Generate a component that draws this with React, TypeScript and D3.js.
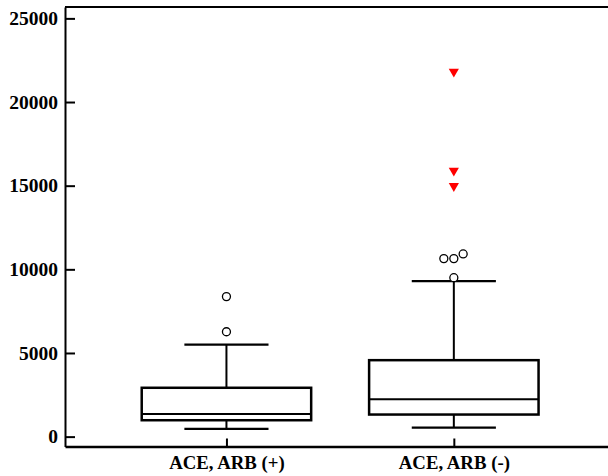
import React, { useRef, useEffect } from "react";
import * as d3 from "d3";

// box summaries per group
const groups = ["ACE, ARB (+)", "ACE, ARB (-)"];
const lowerWhisker = [460, 540];
const q1 = [980, 1320];
const median = [1360, 2240];
const q3 = [2920, 4570];
const upperWhisker = [5500, 9290];

// outliers (open circles) with small horizontal jitter in category units
const outliers = [[8370, 6270], [10640, 10640, 10920, 9500]];
const outlierJitter = [[0, 0], [-0.044, 0, 0.041, 0]];

// extreme values (red triangles)
const extremes = [[], [21820, 15900, 14980]];

const yTicks = [0, 5000, 10000, 15000, 20000, 25000];

export default function App() {
  const ref = useRef<SVGSVGElement>(null);
  const width = 608;
  const height = 476;

  useEffect(() => {
    const svg = d3.select(ref.current);
    svg.selectAll("*").remove();

    const left = 65, right = 608, top = 7, bottom = 446.5;
    const font = "Liberation Serif, Times New Roman, serif";

    const x = d3.scaleLinear().domain([0.29, 2.678]).range([left, right]);
    const y = d3.scaleLinear().domain([-590, 25680]).range([bottom, top]);
    const boxHalf = 0.3726;
    const capHalf = 0.185;

    // top frame line
    svg.append("line")
      .attr("x1", left).attr("x2", right)
      .attr("y1", top).attr("y2", top)
      .attr("stroke", "#000").attr("stroke-width", 2);

    // y axis
    const ya = svg.append("g")
      .attr("transform", `translate(${left},0)`)
      .call(d3.axisLeft(y).tickValues(yTicks).tickSize(-10).tickSizeOuter(0).tickPadding(7).tickFormat(d3.format("d")));
    ya.attr("font-family", null).attr("font-size", null);
    ya.select(".domain").attr("stroke-width", 2);
    ya.selectAll(".tick line").attr("stroke-width", 2);
    ya.selectAll(".tick text")
      .style("font-family", font).style("font-weight", "bold").style("font-size", "19.5px").attr("fill", "#000");

    // x axis
    const xa = svg.append("g")
      .attr("transform", `translate(0,${bottom})`)
      .call(d3.axisBottom(x).tickValues([1, 2]).tickSize(-8).tickSizeOuter(0).tickPadding(9)
        .tickFormat((d) => groups[(d as number) - 1]));
    xa.attr("font-family", null).attr("font-size", null);
    xa.select(".domain").attr("stroke-width", 2.5);
    xa.selectAll(".tick line").attr("stroke-width", 2);
    xa.selectAll(".tick text")
      .style("font-family", font).style("font-weight", "bold").style("font-size", "18.8px").attr("fill", "#000");

    const g = svg.append("g");
    groups.forEach((name, i) => {
      const c = i + 1;
      const bg = g.append("g");
      // whiskers
      bg.append("line")
        .attr("x1", x(c)).attr("x2", x(c))
        .attr("y1", y(upperWhisker[i])).attr("y2", y(q3[i]))
        .attr("stroke", "#000").attr("stroke-width", 2);
      bg.append("line")
        .attr("x1", x(c)).attr("x2", x(c))
        .attr("y1", y(q1[i])).attr("y2", y(lowerWhisker[i]))
        .attr("stroke", "#000").attr("stroke-width", 2);
      [upperWhisker[i], lowerWhisker[i]].forEach((v) => {
        bg.append("line")
          .attr("x1", x(c - capHalf)).attr("x2", x(c + capHalf))
          .attr("y1", y(v)).attr("y2", y(v))
          .attr("stroke", "#000").attr("stroke-width", 2.2);
      });
      // box
      bg.append("rect")
        .attr("x", x(c - boxHalf)).attr("width", x(c + boxHalf) - x(c - boxHalf))
        .attr("y", y(q3[i])).attr("height", y(q1[i]) - y(q3[i]))
        .attr("fill", "none").attr("stroke", "#000").attr("stroke-width", 2.5);
      bg.append("line")
        .attr("x1", x(c - boxHalf)).attr("x2", x(c + boxHalf))
        .attr("y1", y(median[i])).attr("y2", y(median[i]))
        .attr("stroke", "#000").attr("stroke-width", 2);
      // outliers
      bg.selectAll("circle.out")
        .data(outliers[i])
        .join("circle")
        .attr("class", "out")
        .attr("cx", (_, j) => x(c + outlierJitter[i][j]))
        .attr("cy", (d) => y(d))
        .attr("r", 4)
        .attr("fill", "#fff").attr("stroke", "#000").attr("stroke-width", 1.3);
      // extremes
      bg.selectAll("path.ext")
        .data(extremes[i])
        .join("path")
        .attr("class", "ext")
        .attr("d", d3.symbol(d3.symbolTriangle, 45)())
        .attr("transform", (d) => `translate(${x(c)},${y(d)}) rotate(180)`)
        .attr("fill", "#ff0000");
    });
  }, []);

  return (
    <svg
      ref={ref}
      width={width}
      height={height}
      style={{ position: "absolute", left: 0, top: 0, background: "#fff" }}
    ></svg>
  );
}
